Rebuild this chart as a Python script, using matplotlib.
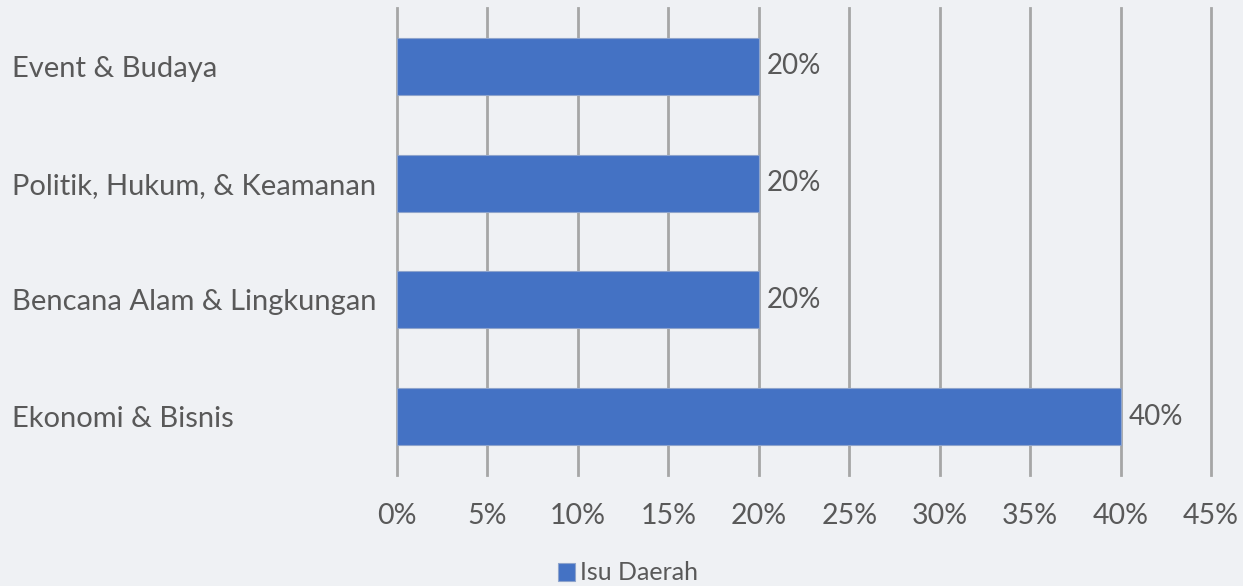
import matplotlib.pyplot as plt
from matplotlib.ticker import FuncFormatter

# Data (top to bottom in the picture).
categories = ['Ekonomi & Bisnis', 'Bencana Alam & Lingkungan',
              'Politik, Hukum, & Keamanan', 'Event & Budaya']
values = [40, 20, 20, 20]
series_name = 'Isu Daerah'
x_ticks = [0, 5, 10, 15, 20, 25, 30, 35, 40, 45]

plt.rcParams['font.family'] = ['Lato', 'DejaVu Sans']
text_color = '#595959'
bg = '#EFF1F4'

fig = plt.figure(figsize=(12.43, 5.86), dpi=100, facecolor=bg)
ax = fig.add_axes([397 / 1243, 1 - 475 / 586, (1211 - 397) / 1243, (475 - 8) / 586])
ax.set_facecolor(bg)

bars = ax.barh(categories, values, height=0.49, color='#4472C4',
               edgecolor='#8EA4CC', linewidth=0.8, zorder=3, label=series_name)

# Data labels
for b, v in zip(bars, values):
    ax.annotate(f'{v}%', (b.get_width(), b.get_y() + b.get_height() / 2),
                xytext=(6, 0), textcoords='offset points', va='center', ha='left',
                fontsize=20, color=text_color)

ax.set_xlim(0, 45)
ax.set_ylim(-0.5, 3.5)
ax.set_xticks(x_ticks)
ax.xaxis.set_major_formatter(FuncFormatter(lambda x, _: f'{x:.0f}%'))
ax.grid(axis='x', color='#A6A6A6', linewidth=2.0, zorder=0)
for gl in ax.get_xgridlines():
    gl.set_clip_on(False)
ax.tick_params(axis='x', length=0, pad=20, labelsize=20.5, labelcolor=text_color)
ax.tick_params(axis='y', length=0, pad=0, labelsize=21, labelcolor=text_color)
for lbl in ax.get_yticklabels():
    lbl.set_horizontalalignment('left')
    lbl.set_x(-397 / 814 + 12 / 814)
for s in ax.spines.values():
    s.set_visible(False)

leg = fig.legend(handles=[bars], labels=[series_name], loc='center',
                 bbox_to_anchor=(628 / 1243, 1 - 573 / 586), frameon=False,
                 fontsize=18, handlelength=0.7, handleheight=0.7, handletextpad=0.2,
                 borderpad=0)
for t in leg.get_texts():
    t.set_color(text_color)

fig.savefig('out.png', dpi=100, facecolor=bg)
